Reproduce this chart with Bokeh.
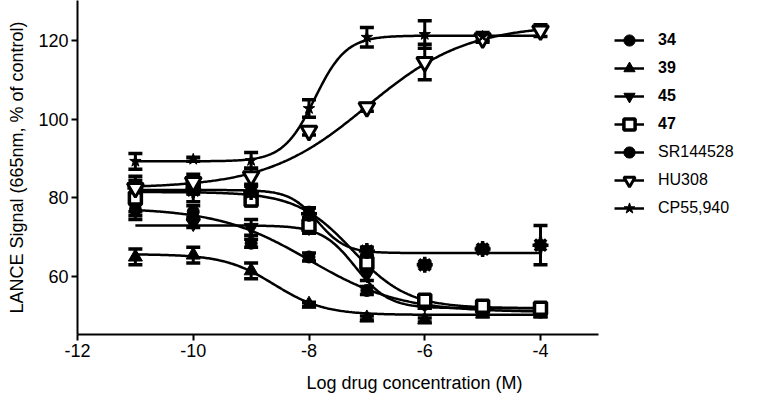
import numpy as np
from bokeh.plotting import figure
from bokeh.models import (Range1d, FixedTicker, Legend, LegendItem, Whisker,
                          TeeHead, ColumnDataSource)
from bokeh.embed import file_html
from bokeh.resources import INLINE

# ---------------- data ----------------
x_ticks = [-12, -10, -8, -6, -4]
x_tick_labels = ["-12", "-10", "-8", "-6", "-4"]
y_ticks = [60, 80, 100, 120]
y_tick_labels = ["60", "80", "100", "120"]

series_names = ["34", "39", "45", "47", "SR144528", "HU308", "CP55,940"]

logc = [-11, -10, -9, -8, -7, -6, -5, -4]
logc_cp = [-11, -10, -9, -8, -7, -6, -5]

val_34 = [77.0, 76.5, 68.5, 65.0, 56.5, 53.0, 52.0, 51.0]
err_34 = [1.5, 1.5, 1.0, 1.0, 1.0, 1.0, 1.0, 1.0]
val_39 = [65.0, 65.5, 61.5, 53.0, 49.5, 49.0, 50.5, 50.5]
err_39 = [2.0, 2.0, 2.0, 0.5, 0.5, 0.5, 0.5, 0.5]
val_45 = [77.5, 73.5, 72.5, 72.5, 60.5, 53.0, 52.5, 52.0]
err_45 = [3.0, 1.0, 2.0, 1.0, 1.5, 1.0, 1.0, 1.0]
val_47 = [80.0, 83.0, 79.5, 73.0, 63.5, 54.0, 52.5, 52.0]
err_47 = [3.5, 2.0, 1.5, 2.0, 1.5, 1.0, 1.0, 1.0]
val_sr = [82.5, 82.0, 81.5, 76.0, 66.5, 63.0, 67.0, 68.0]
err_sr = [3.0, 3.0, 1.5, 1.5, 1.0, 0.5, 0.5, 5.0]
val_hu = [82.5, 84.0, 85.5, 97.0, 103.0, 114.5, 120.5, 122.5]
err_hu = [2.0, 2.0, 2.0, 1.0, 1.0, 4.5, 1.0, 1.5]
val_cp = [89.3, 89.8, 89.5, 102.7, 120.8, 121.5, 121.0]
err_cp = [2.0, 0.5, 2.0, 2.2, 2.5, 3.5, 1.0]

# fitted sigmoid parameters
fit_bottom = [51.0, 50.3, 52.0, 52.0, 66.0, 82.5, 89.3]
fit_top = [77.5, 65.7, 73.0, 81.5, 82.0, 124.0, 121.2]
fit_logec50 = [-8.0, -8.6, -7.2, -7.25, -7.85, -7.0, -7.9]
fit_hill = [-0.55, -1.0, -1.5, -0.9, -1.8, 0.5, 1.6]

# ---------------- layout ----------------
W, H = 751, 395
left, frame_bottom_y = 77, 335
bottom_b = H - frame_bottom_y
px_per_unit = 57.875
px_per_val = 3.95
frame_w = W - left
x_end = -12 + frame_w / px_per_unit
y_start = 60 - (frame_bottom_y - 277) / px_per_val
y_end = 60 + 277 / px_per_val

p = figure(width=W, height=H, output_backend="svg", toolbar_location=None,
           x_range=Range1d(-12, x_end), y_range=Range1d(y_start, y_end),
           min_border_left=left, min_border_right=0, min_border_top=0,
           min_border_bottom=bottom_b)
p.outline_line_color = None
p.grid.visible = False
p.background_fill_color = "white"

FONT = "Liberation Sans"
for ax in (p.xaxis[0], p.yaxis[0]):
    ax.axis_line_width = 2
    ax.major_tick_line_width = 2
    ax.major_tick_out = 6
    ax.major_tick_in = 0
    ax.minor_tick_line_color = None
    ax.major_label_text_font = FONT
    ax.major_label_text_font_size = "18px"
    ax.major_label_text_color = "black"
    ax.axis_label_text_font = FONT
    ax.axis_label_text_font_size = "18px"
    ax.axis_label_text_font_style = "normal"
    ax.axis_label_text_color = "black"

p.xaxis.ticker = FixedTicker(ticks=x_ticks)
p.xaxis.major_label_overrides = dict(zip(x_ticks, x_tick_labels))
p.xaxis.bounds = (-12, -3)
p.xaxis.axis_label = "Log drug concentration (M)"
p.xaxis.axis_label_standoff = 13
p.xaxis.major_label_standoff = 3
p.yaxis.ticker = FixedTicker(ticks=y_ticks)
p.yaxis.major_label_overrides = dict(zip(y_ticks, y_tick_labels))
p.yaxis.axis_label = "LANCE Signal (665nm, % of control)"
p.yaxis.axis_label_standoff = 8
p.yaxis.major_label_standoff = 3

curve_x = np.linspace(-11, -4, 300)


def sigmoid(i, xs):
    b, t, e, h = fit_bottom[i], fit_top[i], fit_logec50[i], fit_hill[i]
    return b + (t - b) / (1 + 10 ** ((e - xs) * h))


xs_all = [logc, logc, logc, logc, logc, logc, logc_cp]
vals_all = [val_34, val_39, val_45, val_47, val_sr, val_hu, val_cp]
errs_all = [err_34, err_39, err_45, err_47, err_sr, err_hu, err_cp]

LW = 2.5
line_rs = []
for i in range(7):
    r = p.line(curve_x, sigmoid(i, curve_x), line_color="black", line_width=LW)
    line_rs.append(r)

# error bars
for i in range(7):
    up = [v + e for v, e in zip(vals_all[i], errs_all[i])]
    lo = [v - e for v, e in zip(vals_all[i], errs_all[i])]
    src = ColumnDataSource(dict(x=xs_all[i], upper=up, lower=lo))
    w = Whisker(base="x", upper="upper", lower="lower", source=src,
                line_width=3, line_color="black",
                upper_head=TeeHead(size=14, line_width=3.5, line_color="black"),
                lower_head=TeeHead(size=14, line_width=3.5, line_color="black"))
    p.add_layout(w)

mk = []
mk.append([p.scatter(logc, val_34, marker="circle", size=12, fill_color="black", line_color="black")])
mk.append([p.scatter(logc, val_39, marker="triangle", size=14, fill_color="black", line_color="black")])
mk.append([p.scatter(logc, val_45, marker="inverted_triangle", size=14, fill_color="black", line_color="black")])
mk.append([p.scatter(logc, val_47, marker="square", size=12, fill_color="white", line_color="black", line_width=3.5)])
mk.append([p.scatter(logc, val_sr, marker="circle", size=12, fill_color="black", line_color="black"),
           p.scatter(logc, val_sr, marker="asterisk", size=16, line_color="black", line_width=3.5)])
mk.append([p.scatter(logc, val_hu, marker="inverted_triangle", size=16, fill_color="white", line_color="black", line_width=3)])
mk.append([p.scatter(logc_cp, val_cp, marker="star", size=12, fill_color="black", line_color="black")])

frame_h = H - bottom_b
row_h = 28


def make_legend(idx, top_img_y, style):
    items = [LegendItem(label=series_names[i], renderers=[line_rs[i]] + mk[i]) for i in idx]
    n = len(idx)
    h = n * row_h
    y_from_bottom = frame_h - top_img_y - h
    lg = Legend(items=items, location=(614 - left, y_from_bottom),
                orientation="vertical", padding=0, margin=0, spacing=0,
                glyph_width=30, glyph_height=row_h, label_height=row_h,
                label_standoff=14, border_line_color=None,
                background_fill_alpha=0, label_text_font=FONT,
                label_text_font_size="16px", label_text_font_style=style,
                label_text_color="black")
    p.add_layout(lg)


make_legend([0, 1, 2, 3], 27, "bold")
make_legend([4, 5, 6], 139, "normal")

open("out.html", "w").write(file_html(p, INLINE))
